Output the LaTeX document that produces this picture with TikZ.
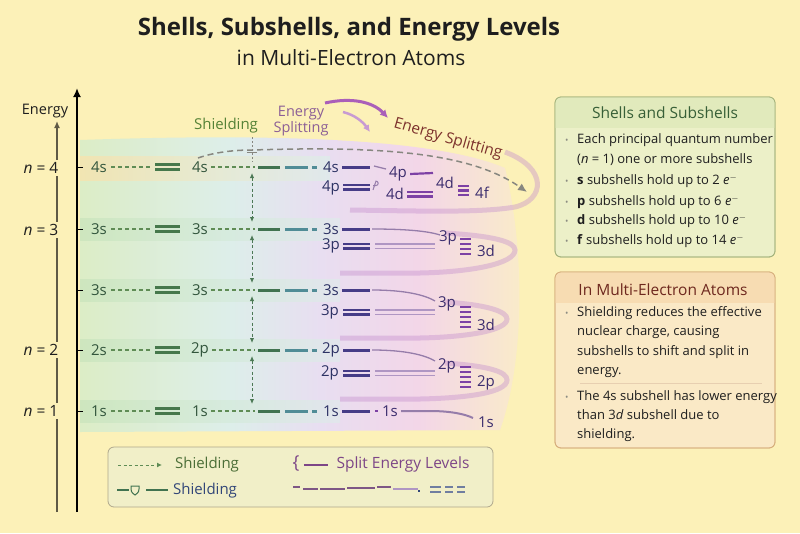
\documentclass[tikz,border=0pt]{standalone}
\usepackage{fontspec}
\setmainfont{Open Sans}
\usetikzlibrary{arrows.meta,positioning,calc}
\definecolor{bgyellow}{RGB}{252,241,184}
\definecolor{inkdark}{RGB}{30,30,30}
\definecolor{axisolive}{RGB}{95,90,70}
\definecolor{labelgreen}{RGB}{50,85,60}
\definecolor{barsgreen}{RGB}{70,120,75}
\definecolor{guidegreen}{RGB}{95,140,85}
\definecolor{levelgreen}{RGB}{65,115,80}
\definecolor{levelteal}{RGB}{80,140,150}
\definecolor{levelnavy}{RGB}{70,60,135}
\definecolor{navy}{RGB}{45,50,100}
\definecolor{subnavy}{RGB}{60,45,110}
\definecolor{splitpurple}{RGB}{125,65,165}
\definecolor{lightsplit}{RGB}{175,150,195}
\definecolor{linkgray}{RGB}{150,125,170}
\definecolor{washgreen}{RGB}{220,237,198}
\definecolor{washcyan}{RGB}{221,238,234}
\definecolor{washlilac}{RGB}{232,222,241}
\definecolor{washpink}{RGB}{243,214,232}
\definecolor{washfade}{RGB}{250,236,200}
\definecolor{bandgreen}{RGB}{195,226,185}
\definecolor{bandorange}{RGB}{250,226,170}
\definecolor{ribbon}{RGB}{195,140,205}
\definecolor{dashgray}{RGB}{135,135,128}
\definecolor{arrowgreen}{RGB}{75,120,85}
\definecolor{shieldtitle}{RGB}{85,130,55}
\definecolor{splittext}{RGB}{125,50,45}
\definecolor{splitsmall}{RGB}{140,95,150}
\definecolor{toparrow}{RGB}{170,95,185}
\definecolor{toparrowlight}{RGB}{200,155,210}
\definecolor{shellfill}{RGB}{236,240,200}
\definecolor{shellhead}{RGB}{225,234,188}
\definecolor{shellborder}{RGB}{165,180,125}
\definecolor{shelltitle}{RGB}{55,95,55}
\definecolor{multfill}{RGB}{250,233,198}
\definecolor{multhead}{RGB}{247,220,178}
\definecolor{multborder}{RGB}{215,175,125}
\definecolor{multtitle}{RGB}{110,40,30}
\definecolor{bulletgray}{RGB}{140,140,130}
\definecolor{legendfill}{RGB}{241,239,200}
\definecolor{legendborder}{RGB}{175,168,140}
\definecolor{legendgreen}{RGB}{75,110,55}
\definecolor{legendnavy}{RGB}{50,70,120}
\definecolor{legendpurple}{RGB}{125,70,135}
\pgfdeclarehorizontalshading{wash}{100bp}{color(0bp)=(washgreen); color(25bp)=(washgreen); color(42bp)=(washcyan); color(52bp)=(washlilac); color(63bp)=(washpink); color(75bp)=(washfade); color(100bp)=(washfade)}
\newcommand{\bul}{\makebox[12pt][l]{\textcolor{bulletgray}{\small\textbullet}}}
\newcommand{\elec}{\textit{e}$^{-}$}
\tikzset{
  lvl/.style={inner sep=1pt, font=\fontsize{15}{17}\selectfont},
  lvlgreen/.style={lvl, text=labelgreen},
  lvlnavy/.style={lvl, text=navy},
  lvlsub/.style={lvl, text=subnavy},
  nlabel/.style={fill=bgyellow, inner xsep=4pt, inner ysep=2pt, font=\fontsize{15.5}{17}\selectfont, text=inkdark},
  guide/.style={draw=guidegreen, dash pattern=on 4pt off 3pt, line width=1.1pt},
  bar/.style={line width=2.2pt},
  level/.style={line width=3pt},
  shieldarrow/.style={{Latex[length=5pt,width=4.5pt]}-{Latex[length=5pt,width=4.5pt]}, draw=arrowgreen, dash pattern=on 3pt off 2.5pt, line width=1pt},
  ribbonline/.style={draw=ribbon, line width=5pt, opacity=.4},
  thinlink/.style={draw=linkgray, line width=1.3pt},
  panel/.style={rounded corners=6pt, line width=0.8pt},
  item/.style={anchor=west, align=left, inner sep=0pt, text=inkdark, font=\fontsize{13}{19.3}\selectfont},
  boxtitle/.style={font=\fontsize{15.5}{18}\selectfont}
}
\begin{document}
\begin{tikzpicture}[x=1pt,y=-1pt]
\fill[bgyellow] (0,0) rectangle (800,533);
\useasboundingbox (0,0) rectangle (800,533);

\node[font=\bfseries\fontsize{24}{28}\selectfont, text=inkdark] (title) at (349,29) {Shells, Subshells, and Energy Levels};
\node[font=\fontsize{21}{24}\selectfont, text=inkdark] (subtitle) at (351,58) {in Multi-Electron Atoms};

\shade[shading=wash] (80,140) .. controls (250,134) and (430,136) .. (505,168) .. controls (525,250) and (525,360) .. (500,430) -- (80,432) -- cycle;
\shade[left color=bandorange, right color=washcyan, opacity=.7] (80,156) rectangle (330,180);
\foreach \y in {229,290,350,411}
  \shade[left color=bandgreen, right color=washcyan, opacity=.55] (80,\y-11) rectangle (340,\y+11);

\draw[ribbonline] (505,152) .. controls (548,168) and (545,200) .. (515,207) .. controls (480,213) and (420,211) .. (350,210);
\draw[ribbonline] (445,233) .. controls (495,236) and (515,242) .. (515,250) .. controls (515,264) and (470,272) .. (420,273) -- (340,273);
\draw[ribbonline] (445,302) .. controls (490,305) and (507,312) .. (507,319) .. controls (507,330) and (470,337) .. (420,338) -- (340,338);
\draw[ribbonline] (445,363) .. controls (490,366) and (507,372) .. (507,380) .. controls (507,392) and (470,398) .. (420,399) -- (340,399);

\draw[-{Latex[length=9pt,width=8pt]}, line width=2pt] (77,512) -- (77,88);
\node[font=\fontsize{14.5}{16}\selectfont, text=inkdark] (energy) at (45,111) {Energy};
\draw[-{Latex[length=7pt,width=6pt]}, draw=axisolive, line width=1.6pt] (57,512) -- (57,121);
\node[nlabel] (n4) at (41,168) {\textit{n} = 4};
\node[nlabel] (n3) at (41,230) {\textit{n} = 3};
\node[nlabel] (n2) at (41,350) {\textit{n} = 2};
\node[nlabel] (n1) at (41,411) {\textit{n} = 1};

\foreach \y/\a/\b/\c [count=\i] in {167/4s/4s/4s, 229/3s/3s/3s, 290/3s/3s/3s, 350/2s/2p/2p, 411/1s/1s/1s}{
  \draw[line width=1pt] (77,\y) -- (83,\y);
  \node[lvlgreen] (a\i) at (99,\y) {\a};
  \draw[guide] (a\i.east) ++(3,0) -- (151,\y);
  \draw[bar, draw=barsgreen, line width=2.5pt] (155,\y-2.6) -- (180,\y-2.6) (155,\y+2.6) -- (180,\y+2.6);
  \node[lvlgreen] (b\i) at (200,\y) {\b};
  \draw[guide] (b\i.east) ++(2,0) -- (255,\y);
  \draw[level, draw=levelgreen] (258,\y) -- (280,\y);
  \draw[level, draw=levelteal] (285,\y) -- (308,\y);
  \draw[level, draw=levelteal] (312,\y) -- (317,\y);
  \node[lvlnavy] (c\i) at (331,\y) {\c};
  \draw[level, draw=levelnavy] (c\i.east) ++(2,0) -- (370,\y);
}
\foreach \ya/\yb in {167/229, 229/290, 290/350, 350/411}
  \draw[shieldarrow] (252,\ya+6) -- (252,\yb-7);

\node[font=\fontsize{15}{17}\selectfont, text=shieldtitle] (shield) at (226,126) {Shielding};
\draw[draw=dashgray, dash pattern=on 2pt off 2pt, line width=.8pt] (252,137) -- (252,162);
\draw[draw=dashgray, line width=.6pt] (247,152) -- (257,152);
\draw[draw=dashgray, dash pattern=on 6pt off 4pt, line width=1.5pt, -{Latex[length=9pt,width=8pt]}] (198,158) .. controls (215,152) and (235,150) .. (252,150) .. controls (380,146) and (470,152) .. (527,192);

\node[align=center, font=\fontsize{14.5}{16}\selectfont, text=splitsmall] (esmall) at (301,121) {Energy\\Splitting};
\draw[draw=toparrow, line width=3pt, -{Latex[length=8pt,width=8pt]}] (325,103) .. controls (352,97) and (373,102) .. (388,118);
\draw[draw=toparrowlight, line width=2.5pt, -{Latex[length=7pt,width=7pt]}] (343,112) .. controls (355,115) and (363,122) .. (370,132);
\node[rotate=-16, font=\fontsize{15.5}{17}\selectfont, text=splittext] (esplit) at (448,139) {Energy Splitting};

\draw[thinlink] (374,166) -- (386,169);
\node[lvlsub] (p4a) at (398,174) {4p};
\draw[bar, draw=splitpurple] (p4a.east) ++(2,0) -- (433,173);
\node[lvlsub] (d4a) at (445,183) {4d};
\draw[bar, draw=splitpurple] (458,186) -- (469,186) (458,190.5) -- (469,190.5) (458,195) -- (469,195);
\node[lvlsub] (f4) at (482,193) {4f};
\node[lvlnavy] (p4b) at (331,188) {4p};
\draw[bar, draw=levelnavy] (343,185) -- (370,185) (343,189.5) -- (370,189.5);
\draw[draw=linkgray, line width=1pt] (373,185.5) -- (376,185.5) arc (90:-90:2.2) -- (373,189.9);
\node[lvlsub] (d4b) at (395,194) {4d};
\draw[bar, draw=splitpurple, line width=2.5pt] (407,192) -- (433,192) (407,196.5) -- (433,196.5);

\draw[thinlink] (372,229) .. controls (405,229) and (428,231) .. (440,235);
\node[lvlsub] (p3a) at (448,238) {3p};
\node[lvlnavy] (p3b) at (331,246) {3p};
\draw[bar, draw=levelnavy] (343,244) -- (370,244) (343,248.5) -- (370,248.5);
\draw[draw=lightsplit, line width=1.2pt] (375,244) -- (435,244) (375,248.5) -- (435,248.5);
\foreach \k in {0,...,3} \draw[bar, draw=splitpurple] (460,239+5*\k) -- (471,239+5*\k);
\node[lvlsub] (d3a) at (486,251) {3d};

\draw[thinlink] (372,290) .. controls (405,290) and (425,295) .. (435,301);
\node[lvlsub] (p3c) at (447,304) {3p};
\node[lvlnavy] (p3d) at (330,312) {3p};
\draw[bar, draw=levelnavy] (343,310) -- (370,310) (343,314.5) -- (370,314.5);
\draw[draw=lightsplit, line width=1.2pt] (375,310) -- (435,310) (375,314.5) -- (435,314.5);
\foreach \k in {0,...,4} \draw[bar, draw=splitpurple] (460,307+5*\k) -- (471,307+5*\k);
\node[lvlsub] (d3b) at (486,325) {3d};

\draw[thinlink] (372,350) .. controls (405,350) and (425,355) .. (435,361);
\node[lvlsub] (p2a) at (447,366) {2p};
\node[lvlnavy] (p2b) at (330,373) {2p};
\draw[bar, draw=levelnavy] (343,371) -- (370,371) (343,375.5) -- (370,375.5);
\draw[draw=lightsplit, line width=1.2pt] (375,371) -- (435,371) (375,375.5) -- (435,375.5);
\foreach \k in {0,...,4} \draw[bar, draw=splitpurple] (460,367+5*\k) -- (471,367+5*\k);
\node[lvlsub] (p2c) at (486,383) {2p};

\draw[draw=splitpurple, line width=2pt] (375,411) -- (378,411);
\node[lvlsub] (s1b) at (390,411) {1s};
\draw[thinlink, line width=2pt] (s1b.east) ++(2,0) -- (430,411) .. controls (450,411) and (465,414) .. (473,418);
\node[lvlsub] (s1c) at (486,422) {1s};

\draw[panel, draw=shellborder, fill=shellfill] (555,97) rectangle (775,257);
\begin{scope}
  \clip[rounded corners=6pt] (555,97) rectangle (775,257);
  \fill[shellhead] (555,97) rectangle (775,128);
\end{scope}
\draw[panel, draw=shellborder] (555,97) rectangle (775,257);
\node[boxtitle, text=shelltitle] (shellhead) at (665,113) {Shells and Subshells};
\node[item] (sh1) at (565,149.5) {\bul Each principal quantum number\\\hspace*{12pt}(\textit{n} = 1) one or more subshells};
\node[item] (sh2) at (565,181) {\bul\textbf{s} subshells hold up to 2 \elec};
\node[item] (sh3) at (565,202) {\bul\textbf{p} subshells hold up to 6 \elec};
\node[item] (sh4) at (565,221) {\bul\textbf{d} subshells hold up to 10 \elec};
\node[item] (sh5) at (565,241) {\bul\textbf{f} subshells hold up to 14 \elec};

\draw[panel, draw=multborder, fill=multfill] (555,272) rectangle (775,448);
\begin{scope}
  \clip[rounded corners=6pt] (555,272) rectangle (775,448);
  \fill[multhead] (555,272) rectangle (775,303);
\end{scope}
\draw[panel, draw=multborder] (555,272) rectangle (775,448);
\node[boxtitle, text=multtitle] (multhead) at (663,290) {In Multi-Electron Atoms};
\node[item] (mu1) at (565,342) {\bul Shielding reduces the effective\\\hspace*{12pt}nuclear charge, causing\\\hspace*{12pt}subshells to shift and split in\\\hspace*{12pt}energy.};
\draw[draw=multborder!60, line width=.6pt] (580,383) -- (762,383);
\node[item] (mu2) at (565,416) {\bul The 4s subshell has lower energy\\\hspace*{12pt}than 3\textit{d} subshell due to\\\hspace*{12pt}shielding.};

\draw[panel, draw=legendborder, fill=legendfill] (108,447) rectangle (493,507);
\draw[draw=guidegreen, dash pattern=on 3pt off 2.5pt, line width=1pt, -{Latex[length=5pt,width=5pt]}] (118,465) -- (162,465);
\node[font=\fontsize{15}{17}\selectfont, text=legendgreen] (lgshield) at (207,465) {Shielding};
\node[font=\fontsize{18}{20}\selectfont, text=legendpurple] (lgbrace) at (296,463) {\{};
\draw[draw=legendpurple, line width=2pt] (lgbrace.east) ++(1,2) -- (328,465);
\node[font=\fontsize{15.5}{17}\selectfont, text=legendpurple] (lgsplit) at (403,464) {Split Energy Levels};
\draw[draw=levelgreen, line width=2.5pt] (117,490) -- (129,490);
\draw[draw=levelgreen, line width=1pt] (131,486) -- (139,486) -- (139,489) .. controls (139,493) and (136,494) .. (135,495) .. controls (134,494) and (131,493) .. (131,489) -- cycle;
\draw[draw=levelgreen, line width=2.5pt] (146,490) -- (168,490);
\node[font=\fontsize{15}{17}\selectfont, text=legendnavy] (lgshieldb) at (205,491) {Shielding};
\foreach \xa/\xb/\yy in {293/300/487, 303/318/489, 320/345/489, 347/375/488, 377/391/487}
  \draw[draw=legendpurple!70!gray, line width=1.8pt] (\xa,\yy) -- (\xb,\yy);
\draw[draw=lightsplit, line width=1.8pt] (393,489) -- (418,489);
\draw[draw=legendnavy, line width=1.5pt] (418,491) -- (420,491);
\foreach \xa/\xb in {430/441, 445/453, 457/465}
  \draw[draw=legendnavy!70, line width=1.5pt] (\xa,487) -- (\xb,487) (\xa,492) -- (\xb,492);
\end{tikzpicture}
\end{document}
